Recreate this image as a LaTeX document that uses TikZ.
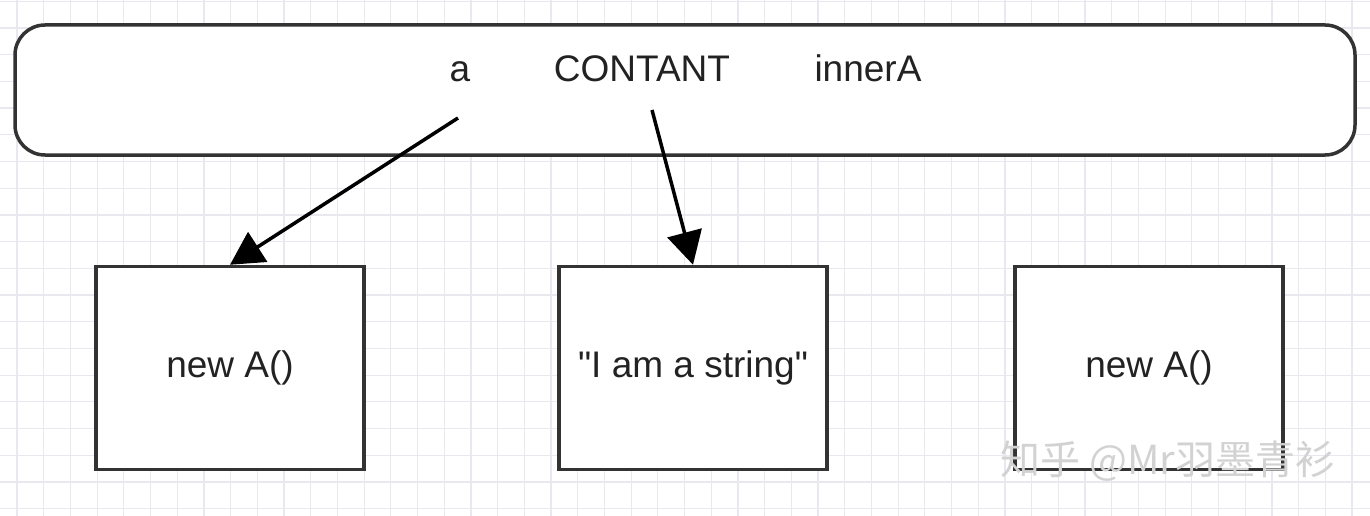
\documentclass[tikz,border=0pt]{standalone}
\usepackage{fontspec}
\setmainfont{Liberation Sans}
\newfontfamily\cjkfont{Noto Sans CJK SC}
\usetikzlibrary{arrows.meta}

\definecolor{gridgray}{HTML}{E8E8EE}
\definecolor{linegray}{HTML}{333333}
\definecolor{textgray}{HTML}{222222}

\begin{document}
\begin{tikzpicture}[x=1pt, y=-1pt, >={Triangle[length=33pt,width=35pt]}]
\tikzset{
  gridline/.style={draw=gridgray, line width=1.2pt},
  box/.style={
    draw=linegray, rectangle, line width=3.5pt, fill=white,
    minimum width=268pt, minimum height=203pt,
    align=center, text=textgray, font=\fontsize{37}{44}\selectfont
  },
  label/.style={text=textgray, font=\fontsize{37}{44}\selectfont, inner sep=0pt, anchor=base},
  pointer/.style={->, line width=3.5pt, draw=black, fill=black}
}

% Background and grid
\fill[white] (0,0) rectangle (1370,516);
\useasboundingbox (0,0) rectangle (1370,516);
\foreach \gx in {0,...,50} \draw[gridline] ({17+26.7*\gx},0) -- ({17+26.7*\gx},516);
\foreach \gy in {0,...,19} \draw[gridline] (0,{1.3+26.7*\gy}) -- (1370,{1.3+26.7*\gy});

% Outer frame
\node[draw=linegray, line width=3.5pt, fill=white, rounded corners=30pt,
      minimum width=1340pt, minimum height=130pt] (frame) at (685,90) {};

% Names in the frame
\node[label] (a)       at (460,82) {a};
\node[label] (contant) at (642,82) {CONTANT};
\node[label] (innera)  at (868,82) {innerA};
\coordinate (afrom) at (458,118);
\coordinate (cfrom) at (652,110);

% Objects
\node[box] (obj1) at (230,368) {new A()};
\node[box] (str)  at (693,368) {\textquotedbl I am a string\textquotedbl};
\node[box] (obj2) at (1149,368) {new A()};

% References
\draw[pointer] (afrom) -- (obj1.north);
\draw[pointer] (cfrom) -- (str.north);

% Watermark
\node[text=gray!35, font=\cjkfont\fontsize{40}{46}\selectfont] (mark) at (1168,461) {知乎 @Mr羽墨青衫};

\end{tikzpicture}
\end{document}
